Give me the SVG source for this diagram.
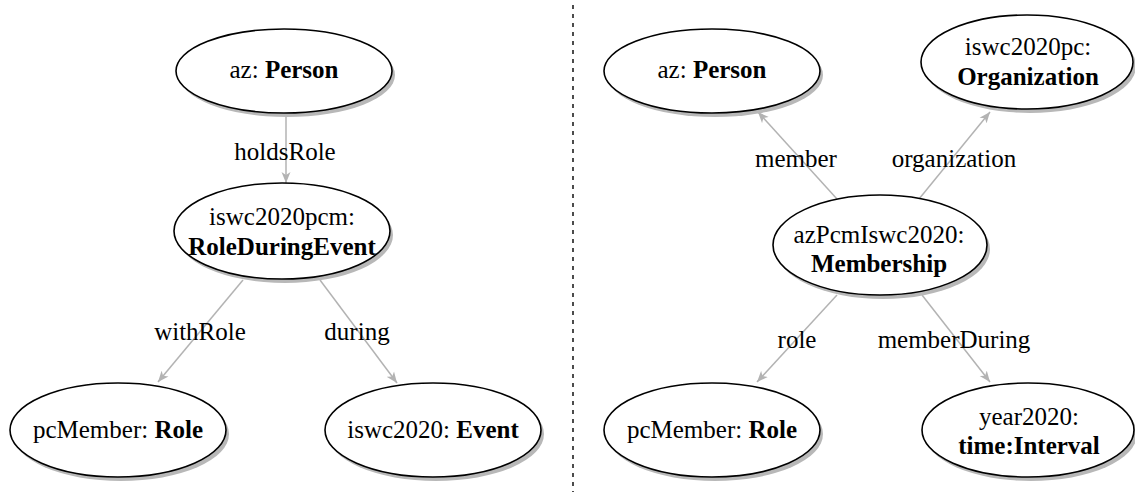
<svg xmlns="http://www.w3.org/2000/svg" width="1135" height="492" viewBox="0 0 1135 492" font-family="Liberation Serif, serif" font-size="25" text-anchor="middle">
<defs>
  <marker id="arr" markerWidth="12" markerHeight="10" refX="11" refY="5" orient="auto" markerUnits="userSpaceOnUse">
    <path d="M11,5 L0,0.5 L3,5 L0,9.5 Z" fill="#b3b3b3"/>
  </marker>
</defs>
<rect width="1135" height="492" fill="#ffffff"/>
<line x1="573" y1="5" x2="573" y2="492" stroke="#000000" stroke-width="1.4" stroke-dasharray="4 5"/>

<g id="connectors" stroke="#b3b3b3" stroke-width="1.5" fill="none" marker-end="url(#arr)">
  <line x1="286" y1="113" x2="286" y2="183"/>
  <line x1="243" y1="280" x2="158" y2="382"/>
  <line x1="320" y1="280" x2="397" y2="383"/>
  <line x1="837" y1="199" x2="758" y2="112"/>
  <line x1="919" y1="199" x2="990" y2="112"/>
  <line x1="837" y1="295" x2="757" y2="382"/>
  <line x1="922" y1="295" x2="990" y2="382"/>
</g>
<g id="connector-labels" fill="#000000">
  <text x="285" y="160">holdsRole</text>
  <text x="200" y="340">withRole</text>
  <text x="357" y="340">during</text>
  <text x="796" y="167">member</text>
  <text x="954" y="167">organization</text>
  <text x="797" y="348">role</text>
  <text x="954" y="348">memberDuring</text>
</g>

<g id="n-left-person">
  <ellipse cx="287" cy="75" rx="108" ry="42" fill="#b8b8b8"/>
  <ellipse cx="284" cy="71" rx="108" ry="42" fill="#ffffff" stroke="#000000" stroke-width="1.6"/>
  <text x="284" y="78">az: <tspan font-weight="bold">Person</tspan></text>
</g>
<g id="n-role-during-event">
  <ellipse cx="285" cy="235" rx="108" ry="48" fill="#b8b8b8"/>
  <ellipse cx="282" cy="231" rx="108" ry="48" fill="#ffffff" stroke="#000000" stroke-width="1.6"/>
  <text x="282" y="225">iswc2020pcm:</text>
  <text x="282" y="255" font-weight="bold">RoleDuringEvent</text>
</g>
<g id="n-left-role">
  <ellipse cx="121" cy="434" rx="108" ry="47" fill="#b8b8b8"/>
  <ellipse cx="118" cy="430" rx="108" ry="47" fill="#ffffff" stroke="#000000" stroke-width="1.6"/>
  <text x="118" y="438">pcMember: <tspan font-weight="bold">Role</tspan></text>
</g>
<g id="n-event">
  <ellipse cx="436" cy="434" rx="108" ry="47" fill="#b8b8b8"/>
  <ellipse cx="433" cy="430" rx="108" ry="47" fill="#ffffff" stroke="#000000" stroke-width="1.6"/>
  <text x="433" y="438">iswc2020: <tspan font-weight="bold">Event</tspan></text>
</g>

<g id="n-right-person">
  <ellipse cx="715" cy="75" rx="108" ry="42" fill="#b8b8b8"/>
  <ellipse cx="712" cy="71" rx="108" ry="42" fill="#ffffff" stroke="#000000" stroke-width="1.6"/>
  <text x="712" y="78">az: <tspan font-weight="bold">Person</tspan></text>
</g>
<g id="n-organization">
  <ellipse cx="1030" cy="66" rx="106" ry="47" fill="#b8b8b8"/>
  <ellipse cx="1027" cy="62" rx="106" ry="47" fill="#ffffff" stroke="#000000" stroke-width="1.6"/>
  <text x="1028" y="55">iswc2020pc:</text>
  <text x="1028" y="85" font-weight="bold">Organization</text>
</g>
<g id="n-membership">
  <ellipse cx="883" cy="249" rx="107" ry="50" fill="#b8b8b8"/>
  <ellipse cx="880" cy="245" rx="107" ry="50" fill="#ffffff" stroke="#000000" stroke-width="1.6"/>
  <text x="879" y="243">azPcmIswc2020:</text>
  <text x="879" y="272" font-weight="bold">Membership</text>
</g>
<g id="n-right-role">
  <ellipse cx="715" cy="434" rx="108" ry="47" fill="#b8b8b8"/>
  <ellipse cx="712" cy="430" rx="108" ry="47" fill="#ffffff" stroke="#000000" stroke-width="1.6"/>
  <text x="712" y="438">pcMember: <tspan font-weight="bold">Role</tspan></text>
</g>
<g id="n-interval">
  <ellipse cx="1031" cy="434" rx="106" ry="47" fill="#b8b8b8"/>
  <ellipse cx="1028" cy="430" rx="106" ry="47" fill="#ffffff" stroke="#000000" stroke-width="1.6"/>
  <text x="1029" y="425">year2020:</text>
  <text x="1029" y="454" font-weight="bold">time:Interval</text>
</g>
</svg>
